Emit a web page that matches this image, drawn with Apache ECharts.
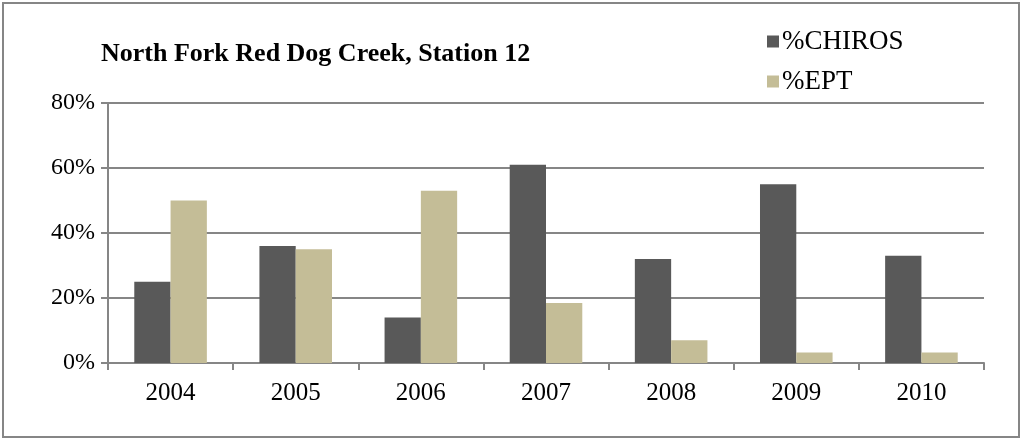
<!DOCTYPE html>
<html>
<head>
<meta charset="utf-8">
<script src="https://cdn.jsdelivr.net/npm/echarts@6/dist/echarts.min.js"></script>
<style>
  html, body { margin: 0; padding: 0; background: #fff; }
  #chart { width: 1023px; height: 442px; }
</style>
</head>
<body>
<div id="chart"></div>
<script>
// Macroinvertebrate composition by sampling year
const years = ['2004', '2005', '2006', '2007', '2008', '2009', '2010'];
const chiros = [25, 36, 14, 61, 32, 55, 33];
const ept = [50, 35, 53, 18.5, 7, 3.2, 3.2];
const yTicks = [0, 20, 40, 60, 80];

const FONT = '"Liberation Serif", "Times New Roman", serif';
const GRID_COLOR = '#868686';

const chart = echarts.init(document.getElementById('chart'));
chart.setOption({
  animation: false,
  backgroundColor: '#ffffff',
  graphic: [{
    type: 'rect',
    shape: { x: 3, y: 3, width: 1016, height: 434 },
    style: { fill: 'none', stroke: GRID_COLOR, lineWidth: 2 }
  }],
  title: {
    text: 'North Fork Red Dog Creek, Station 12',
    left: 96,
    top: 36,
    textStyle: { fontFamily: FONT, fontSize: 26, fontWeight: 'bold', color: '#000' }
  },
  legend: {
    orient: 'vertical',
    left: 762,
    top: 23,
    itemWidth: 12,
    itemHeight: 12,
    itemGap: 13,
    icon: 'rect',
    textStyle: { fontFamily: FONT, fontSize: 27, color: '#000', padding: [0, 0, 0, -2] },
    data: ['%CHIROS', '%EPT']
  },
  grid: { left: 108, right: 39, top: 103, bottom: 79, containLabel: false },
  xAxis: {
    type: 'category',
    data: years,
    axisLine: { lineStyle: { color: GRID_COLOR, width: 2 } },
    axisTick: { show: true, length: 7, alignWithLabel: false, lineStyle: { color: GRID_COLOR, width: 2 } },
    axisLabel: { fontFamily: FONT, fontSize: 25, color: '#000', margin: 18 }
  },
  yAxis: {
    type: 'value',
    min: yTicks[0],
    max: yTicks[yTicks.length - 1],
    interval: yTicks[1] - yTicks[0],
    axisLine: { show: true, lineStyle: { color: GRID_COLOR, width: 2 } },
    axisTick: { show: true, length: 7, lineStyle: { color: GRID_COLOR, width: 2 } },
    splitLine: { show: true, lineStyle: { color: GRID_COLOR, width: 2 } },
    axisLabel: { fontFamily: FONT, fontSize: 24, color: '#000', margin: 13, formatter: '{value}%' }
  },
  series: [
    {
      name: '%CHIROS',
      type: 'bar',
      data: chiros,
      barGap: '0%',
      barCategoryGap: '42%',
      itemStyle: { color: '#595959' }
    },
    {
      name: '%EPT',
      type: 'bar',
      data: ept,
      itemStyle: { color: '#C4BD97' }
    }
  ]
});
</script>
</body>
</html>
